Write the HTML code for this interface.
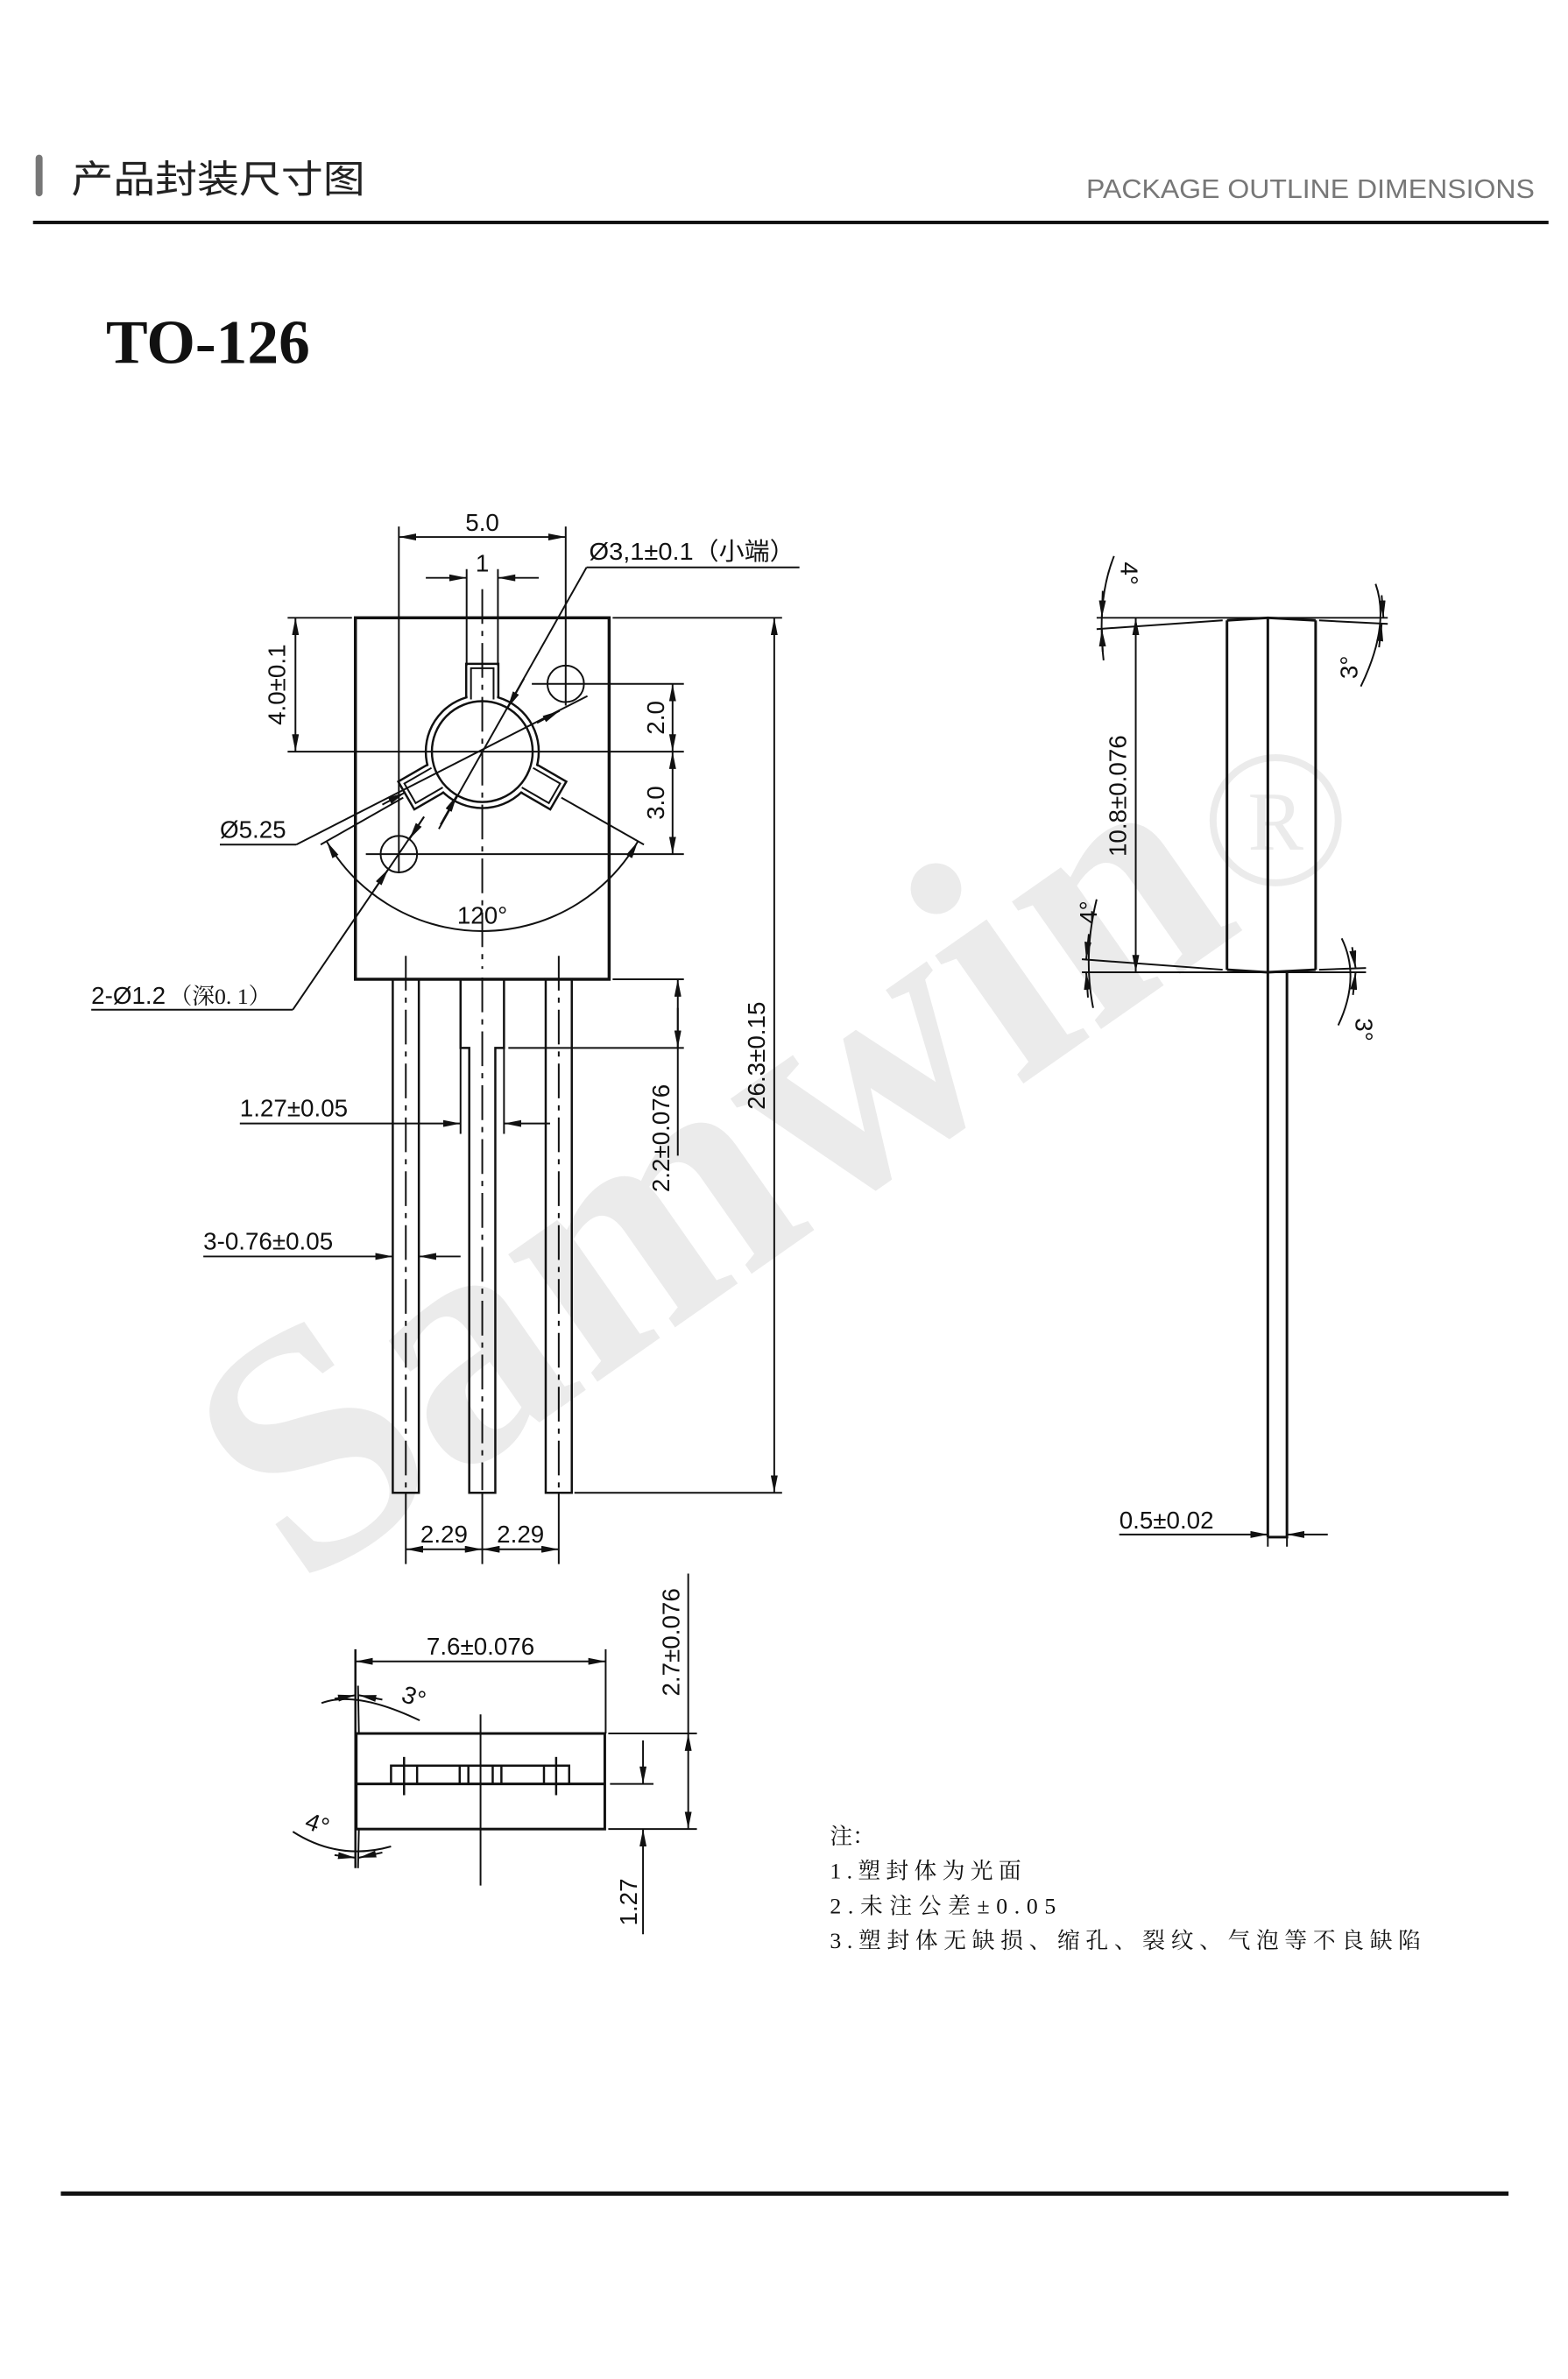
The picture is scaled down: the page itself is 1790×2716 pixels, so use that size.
<!DOCTYPE html>
<html><head><meta charset="utf-8"><style>
html,body{margin:0;padding:0;background:#fff}
svg{display:block}
text{font-family:"Liberation Sans","Noto Sans CJK SC",sans-serif;fill:#111}
</style></head><body>
<svg width="1790" height="2716" viewBox="0 0 1790 2716" xmlns="http://www.w3.org/2000/svg">
<defs>
<marker id="a" viewBox="0 0 20 8" refX="20" refY="4" markerWidth="20" markerHeight="8" markerUnits="userSpaceOnUse" orient="auto-start-reverse"><path d="M0,0 L20,4 L0,8 z" fill="#111"/></marker>
</defs>
<g transform="scale(0.992)">
<!-- watermark -->
<g transform="translate(345,1830) rotate(-35)">
<text x="0" y="0" font-weight="bold" font-size="390" style="fill:#ebebeb;font-family:'Liberation Serif',serif" textLength="1330" lengthAdjust="spacingAndGlyphs">Samwin</text>
</g>
<circle cx="1468" cy="944" r="72" fill="none" stroke="#ebebeb" stroke-width="8"/>
<text x="1468" y="978" text-anchor="middle" font-size="96" style="fill:#ebebeb;font-family:'Liberation Serif',serif">R</text>

<!-- header -->
<rect x="41" y="178" width="8" height="48" rx="4" fill="#777"/>
<text x="82" y="222" font-size="44" style="font-family:'Liberation Sans','Noto Sans CJK SC',sans-serif;fill:#222" textLength="338" lengthAdjust="spacingAndGlyphs">产品封装尺寸图</text>
<text x="1766" y="228" text-anchor="end" font-size="31" style="fill:#777" textLength="516" lengthAdjust="spacingAndGlyphs">PACKAGE OUTLINE DIMENSIONS</text>
<rect x="38" y="254" width="1744" height="4" fill="#111"/>
<text x="122" y="418" font-size="72" font-weight="bold" style="font-family:'Liberation Serif',serif;fill:#111">TO-126</text>
<rect x="70" y="2522" width="1666" height="5" fill="#111"/>

<g stroke="#111" fill="none" stroke-width="2">
<!-- FRONT VIEW -->
<rect x="409" y="711" width="292" height="416" stroke-width="3.5"/>
<circle cx="555" cy="865" r="65" stroke-width="2.5"/>
<g transform="translate(555,865)">
 <g id="tab">
  <rect x="-17" y="-100" width="34" height="42" fill="#fff" stroke="none"/>
  <path d="M-18.5,-62 L-18.5,-101 L18.5,-101 L18.5,-62" stroke-width="2.5"/>
  <path d="M-13,-60 L-13,-96 L13,-96 L13,-60" stroke-width="2"/>
 </g>
 <use href="#tab" transform="rotate(120)"/>
 <use href="#tab" transform="rotate(240)"/>
</g>
<circle cx="555" cy="865" r="58" stroke-width="2.5"/>
<circle cx="651" cy="787" r="21"/>
<circle cx="459" cy="983" r="21"/>
<line x1="555" y1="678" x2="555" y2="1115" stroke-dasharray="40,8,6,8"/>
<line x1="612" y1="787" x2="787" y2="787"/>
<line x1="331" y1="865" x2="787" y2="865"/>
<line x1="421" y1="983" x2="787" y2="983"/>
<line x1="459" y1="606" x2="459" y2="1005"/>
<line x1="651" y1="606" x2="651" y2="812"/>
<line x1="459" y1="618" x2="651" y2="618" marker-start="url(#a)" marker-end="url(#a)"/>
<line x1="537" y1="655" x2="537" y2="766"/>
<line x1="573" y1="655" x2="573" y2="766"/>
<line x1="490" y1="665" x2="537" y2="665" marker-end="url(#a)"/>
<line x1="620" y1="665" x2="573" y2="665" marker-end="url(#a)"/>
<line x1="331" y1="711" x2="405" y2="711"/>
<line x1="340" y1="711" x2="340" y2="865" marker-start="url(#a)" marker-end="url(#a)"/>
<line x1="774" y1="787" x2="774" y2="865" marker-start="url(#a)" marker-end="url(#a)"/>
<line x1="774" y1="865" x2="774" y2="983" marker-start="url(#a)" marker-end="url(#a)"/>
<line x1="705" y1="711" x2="900" y2="711"/>
<line x1="891" y1="711" x2="891" y2="1718" marker-start="url(#a)" marker-end="url(#a)"/>
<line x1="661" y1="1718" x2="900" y2="1718"/>
<line x1="920" y1="653" x2="675" y2="653"/>
<line x1="675" y1="653" x2="505" y2="954"/>
<line x1="603" y1="781" x2="584" y2="815" marker-end="url(#a)"/>
<line x1="507" y1="949" x2="526" y2="915" marker-end="url(#a)"/>
<line x1="676" y1="801" x2="341" y2="972"/>
<line x1="341" y1="972" x2="253" y2="972"/>
<line x1="618" y1="832" x2="644" y2="818" marker-end="url(#a)"/>
<line x1="440" y1="926" x2="466" y2="912" marker-end="url(#a)"/>
<line x1="646" y1="918" x2="741" y2="972"/>
<line x1="464" y1="918" x2="369" y2="972"/>
<path d="M376,968.5 A207,207 0 0 0 734,968.5" marker-start="url(#a)" marker-end="url(#a)"/>
<line x1="105" y1="1162" x2="337" y2="1162"/>
<line x1="337" y1="1162" x2="488" y2="940"/>
<line x1="430" y1="1025" x2="447" y2="1000" marker-end="url(#a)"/>
<line x1="488" y1="940" x2="471" y2="966" marker-end="url(#a)"/>
<rect x="452" y="1127" width="30" height="591" stroke-width="2.5"/>
<rect x="628" y="1127" width="30" height="591" stroke-width="2.5"/>
<path d="M530,1127 L530,1206 L540,1206 L540,1718 L570,1718 L570,1206 L580,1206 L580,1127" stroke-width="2.5"/>
<line x1="530" y1="1206" x2="530" y2="1305"/>
<line x1="580" y1="1206" x2="580" y2="1305"/>
<line x1="467" y1="1100" x2="467" y2="1715" stroke-dasharray="40,8,6,8"/>
<line x1="555" y1="1125" x2="555" y2="1715" stroke-dasharray="40,8,6,8"/>
<line x1="643" y1="1100" x2="643" y2="1715" stroke-dasharray="40,8,6,8"/>
<line x1="705" y1="1127" x2="787" y2="1127"/>
<line x1="585" y1="1206" x2="787" y2="1206"/>
<line x1="780" y1="1127" x2="780" y2="1330" marker-start="url(#a)"/>
<line x1="780" y1="1160" x2="780" y2="1206" marker-end="url(#a)"/>
<line x1="276" y1="1293" x2="530" y2="1293" marker-end="url(#a)"/>
<line x1="633" y1="1293" x2="580" y2="1293" marker-end="url(#a)"/>
<line x1="234" y1="1446" x2="452" y2="1446" marker-end="url(#a)"/>
<line x1="530" y1="1446" x2="482" y2="1446" marker-end="url(#a)"/>
<line x1="467" y1="1718" x2="467" y2="1800"/>
<line x1="555" y1="1718" x2="555" y2="1800"/>
<line x1="643" y1="1718" x2="643" y2="1800"/>
<line x1="467" y1="1783" x2="555" y2="1783" marker-start="url(#a)" marker-end="url(#a)"/>
<line x1="555" y1="1783" x2="643" y2="1783" marker-start="url(#a)" marker-end="url(#a)"/>

<!-- SIDE VIEW -->
<line x1="1262" y1="711" x2="1597" y2="711"/>
<line x1="1262" y1="724" x2="1407" y2="714"/>
<line x1="1518" y1="714" x2="1597" y2="718"/>
<line x1="1245" y1="1119" x2="1572" y2="1119"/>
<line x1="1245" y1="1104" x2="1407" y2="1116"/>
<line x1="1518" y1="1116" x2="1572" y2="1114"/>
<path d="M1412,714 L1459,711 L1514,714" stroke-width="3"/>
<path d="M1412,1116 L1459,1119 L1514,1116" stroke-width="3"/>
<line x1="1412" y1="714" x2="1412" y2="1116" stroke-width="3"/>
<line x1="1459" y1="711" x2="1459" y2="1769" stroke-width="3"/>
<line x1="1514" y1="714" x2="1514" y2="1116" stroke-width="3"/>
<path d="M1459,1769 L1481,1769 L1481,1119" stroke-width="3"/>
<line x1="1307" y1="711" x2="1307" y2="1119" marker-start="url(#a)" marker-end="url(#a)"/>
<path d="M1282,640 Q1262,690 1270,760"/>
<line x1="1269" y1="680" x2="1268" y2="711" marker-end="url(#a)"/>
<line x1="1269" y1="750" x2="1268" y2="724" marker-end="url(#a)"/>
<path d="M1583,672 Q1600,720 1566,790"/>
<line x1="1590" y1="685" x2="1592" y2="711" marker-end="url(#a)"/>
<line x1="1587" y1="745" x2="1590" y2="718" marker-end="url(#a)"/>
<path d="M1262,1035 Q1246,1100 1258,1160"/>
<line x1="1253" y1="1075" x2="1250" y2="1104" marker-end="url(#a)"/>
<line x1="1252" y1="1148" x2="1250" y2="1119" marker-end="url(#a)"/>
<path d="M1544,1080 Q1566,1125 1540,1180"/>
<line x1="1556" y1="1090" x2="1560" y2="1114" marker-end="url(#a)"/>
<line x1="1557" y1="1145" x2="1560" y2="1119" marker-end="url(#a)"/>
<line x1="1459" y1="1752" x2="1459" y2="1780"/>
<line x1="1481" y1="1752" x2="1481" y2="1780"/>
<line x1="1288" y1="1766" x2="1459" y2="1766" marker-end="url(#a)"/>
<line x1="1528" y1="1766" x2="1481" y2="1766" marker-end="url(#a)"/>

<!-- END VIEW -->
<rect x="410" y="1995" width="286" height="110" stroke-width="3"/>
<line x1="410" y1="2053" x2="696" y2="2053" stroke-width="3"/>
<path d="M450,2053 L450,2032 L655,2032 L655,2053" stroke-width="2.5"/>
<line x1="480" y1="2032" x2="480" y2="2053" stroke-width="2.5"/>
<line x1="529" y1="2032" x2="529" y2="2053" stroke-width="2.5"/>
<line x1="539" y1="2032" x2="539" y2="2053" stroke-width="2.5"/>
<line x1="567" y1="2032" x2="567" y2="2053" stroke-width="2.5"/>
<line x1="577" y1="2032" x2="577" y2="2053" stroke-width="2.5"/>
<line x1="626" y1="2032" x2="626" y2="2053" stroke-width="2.5"/>
<line x1="465" y1="2022" x2="465" y2="2066" stroke-width="2.5"/>
<line x1="640" y1="2022" x2="640" y2="2066" stroke-width="2.5"/>
<line x1="553" y1="1973" x2="553" y2="2170"/>
<line x1="409" y1="1898" x2="409" y2="2150" stroke-width="2.5"/>
<line x1="412" y1="1940" x2="413" y2="1995"/>
<line x1="413" y1="2105" x2="412" y2="2150"/>
<line x1="697" y1="1898" x2="697" y2="1995"/>
<line x1="409" y1="1912" x2="697" y2="1912" marker-start="url(#a)" marker-end="url(#a)"/>
<path d="M370,1960 Q410,1945 483,1980"/>
<line x1="385" y1="1955" x2="409" y2="1951" marker-end="url(#a)"/>
<line x1="440" y1="1956" x2="413" y2="1951" marker-end="url(#a)"/>
<path d="M337,2108 Q390,2142 450,2125"/>
<line x1="385" y1="2135" x2="409" y2="2138" marker-end="url(#a)"/>
<line x1="440" y1="2132" x2="413" y2="2138" marker-end="url(#a)"/>
<line x1="700" y1="1995" x2="802" y2="1995"/>
<line x1="700" y1="2105" x2="802" y2="2105"/>
<line x1="792" y1="1811" x2="792" y2="1995"/>
<line x1="792" y1="1995" x2="792" y2="2105" marker-start="url(#a)" marker-end="url(#a)"/>
<line x1="702" y1="2053" x2="752" y2="2053"/>
<line x1="740" y1="2003" x2="740" y2="2053" marker-end="url(#a)"/>
<line x1="740" y1="2226" x2="740" y2="2105" marker-end="url(#a)"/>
</g>

<!-- labels -->
<g font-size="28">
<text x="555" y="611" text-anchor="middle">5.0</text>
<text x="555" y="658" text-anchor="middle">1</text>
<text x="678" y="644" textLength="237" lengthAdjust="spacingAndGlyphs">Ø3,1±0.1（小端）</text>
<text transform="translate(328,788) rotate(-90)" text-anchor="middle">4.0±0.1</text>
<text transform="translate(764,826) rotate(-90)" text-anchor="middle">2.0</text>
<text transform="translate(764,924) rotate(-90)" text-anchor="middle">3.0</text>
<text x="253" y="964">Ø5.25</text>
<text x="555" y="1063" text-anchor="middle">120°</text>
<text x="105" y="1155">2-Ø1.2</text>
<text x="195" y="1155" font-size="26" style="font-family:'Liberation Serif','Noto Serif CJK SC',serif">（深0. 1）</text>
<text transform="translate(880,1215) rotate(-90)" text-anchor="middle">26.3±0.15</text>
<text transform="translate(770,1310) rotate(-90)" text-anchor="middle">2.2±0.076</text>
<text x="276" y="1285">1.27±0.05</text>
<text x="234" y="1438">3-0.76±0.05</text>
<text x="511" y="1775" text-anchor="middle">2.29</text>
<text x="599" y="1775" text-anchor="middle">2.29</text>
<text transform="translate(1296,916) rotate(-90)" text-anchor="middle">10.8±0.076</text>
<text transform="translate(1290,660) rotate(90)" text-anchor="middle">4°</text>
<text transform="translate(1562,768) rotate(-90)" text-anchor="middle">3°</text>
<text transform="translate(1262,1050) rotate(-90)" text-anchor="middle">4°</text>
<text transform="translate(1560,1185) rotate(90)" text-anchor="middle">3°</text>
<text x="1288" y="1759">0.5±0.02</text>
<text x="553" y="1904" text-anchor="middle">7.6±0.076</text>
<text transform="translate(473,1962) rotate(20)" text-anchor="middle">3°</text>
<text transform="translate(362,2108) rotate(20)" text-anchor="middle">4°</text>
<text transform="translate(782,1890) rotate(-90)" text-anchor="middle">2.7±0.076</text>
<text transform="translate(733,2189) rotate(-90)" text-anchor="middle">1.27</text>
</g>

<!-- notes -->
<g font-size="26">
<text x="955" y="2122" style="font-family:'Liberation Serif','Noto Serif CJK SC',serif">注：</text>
<text x="955" y="2162" style="font-family:'Liberation Serif','Noto Serif CJK SC',serif" textLength="220" lengthAdjust="spacing">1.塑封体为光面</text>
<text x="955" y="2202" style="font-family:'Liberation Serif','Noto Serif CJK SC',serif" textLength="260" lengthAdjust="spacing">2.未注公差±0.05</text>
<text x="955" y="2242" style="font-family:'Liberation Serif','Noto Serif CJK SC',serif" textLength="680" lengthAdjust="spacing">3.塑封体无缺损、缩孔、裂纹、气泡等不良缺陷</text>
</g>
</g>
</svg>
</body></html>
